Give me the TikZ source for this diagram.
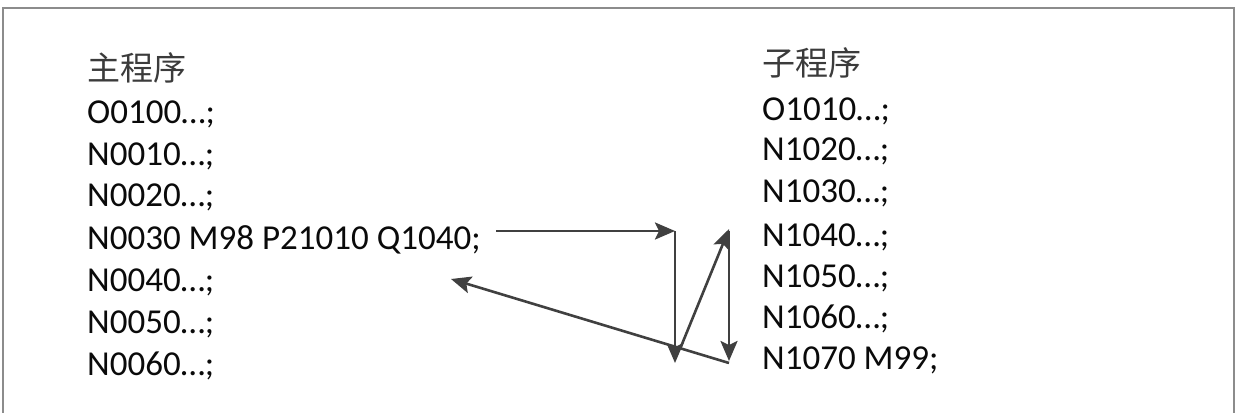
\documentclass[tikz,border=0pt]{standalone}
\usepackage{fontspec}
\setmainfont{Carlito}
\newfontfamily\cjk{Noto Sans CJK SC}
\usetikzlibrary{arrows.meta}
\definecolor{framegray}{HTML}{8C8C8C}
\definecolor{arrowgray}{HTML}{404040}
\definecolor{textblack}{HTML}{0A0A0A}
\tikzset{
  codeline/.style={anchor=base west, inner sep=0pt, text=textblack, font=\fontsize{35}{41}\selectfont},
  headline/.style={anchor=base west, inner sep=0pt, text=textblack!80, font=\cjk\fontsize{33}{39}\selectfont},
  conn/.style={draw=arrowgray, line width=2.6pt, -{Stealth[length=20pt,width=17pt,inset=4pt]}},
  framebox/.style={draw=framegray, line width=1.5pt}
}
\begin{document}
\begin{tikzpicture}[x=1pt,y=-1pt]
\useasboundingbox (0,0) rectangle (1236,412);
\draw[framebox] (3,420) -- (3,8) -- (1234,8) -- (1234,420);
% main program
\node[headline] (mh) at (87,80) {主程序};
\node[codeline] (m0) at (87,123.5) {O0100…;};
\node[codeline] (m1) at (87,165) {N0010…;};
\node[codeline] (m2) at (87,206.7) {N0020…;};
\node[codeline] (m3) at (87,249) {N0030 M98 P21010 Q1040;};
\node[codeline] (m4) at (87,291.5) {N0040…;};
\node[codeline] (m5) at (87,333.3) {N0050…;};
\node[codeline] (m6) at (87,375) {N0060…;};
% sub program
\node[headline] (sh) at (762,75.5) {子程序};
\node[codeline] (s0) at (762,120.7) {O1010…;};
\node[codeline] (s1) at (762,160.7) {N1020…;};
\node[codeline] (s2) at (762,202.3) {N1030…;};
\node[codeline] (s3) at (762,246) {N1040…;};
\node[codeline] (s4) at (762,287.3) {N1050…;};
\node[codeline] (s5) at (762,328.3) {N1060…;};
\node[codeline] (s6) at (762,369.3) {N1070 M99;};
% path points
\coordinate (p0) at (496,231);
\coordinate (p1) at (675,231);
\coordinate (p2) at (675,363);
\coordinate (p3s) at (680,349);
\coordinate (p3) at (729,229);
\coordinate (p4s) at (729,231);
\coordinate (p4) at (729,361);
\coordinate (p5s) at (729,363);
\coordinate (p5) at (451,279);
\draw[conn] (p0) -- (p1);
\draw[conn] (p1) -- (p2);
\draw[conn] (p3s) -- (p3);
\draw[conn] (p4s) -- (p4);
\draw[conn] (p5s) -- (p5);
\end{tikzpicture}
\end{document}
